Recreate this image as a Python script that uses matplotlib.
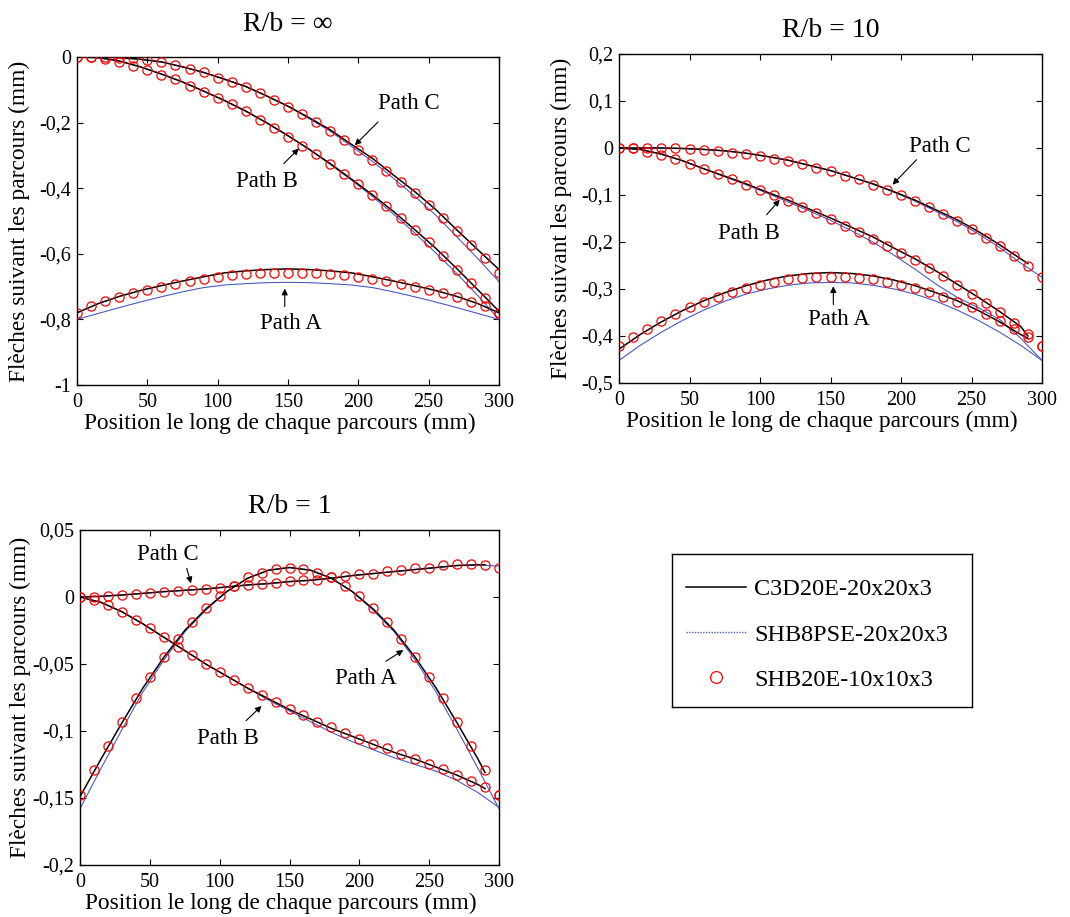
import matplotlib
matplotlib.use("Agg")
import matplotlib.pyplot as plt
from matplotlib.lines import Line2D
from matplotlib.ticker import FixedLocator, FixedFormatter

plt.rcParams['font.family'] = ['Liberation Serif', 'DejaVu Serif']

# ---------------- data ----------------
X_CIRC = [0, 10, 20, 30, 40, 50, 60, 70, 80, 90, 100, 110, 120, 130, 140, 150,
          160, 170, 180, 190, 200, 210, 220, 230, 240, 250, 260, 270, 280, 290, 300]
X_LINE = [0, 15, 30, 45, 60, 75, 90, 105, 120, 135, 150, 165, 180, 195, 210, 225,
          240, 255, 270, 285, 300]
X_LINE_290 = [0, 15, 30, 45, 60, 75, 90, 105, 120, 135, 150, 165, 180, 195, 210, 225,
              240, 255, 270, 285, 290]

X_TICKS = [0, 50, 100, 150, 200, 250, 300]
X_TICK_LABELS = ["0", "50", "100", "150", "200", "250", "300"]

# R/b = infinity
INF_TITLE = "R/b = \u221e"
INF_YTICKS = [0, -0.2, -0.4, -0.6, -0.8, -1.0]
INF_YTICK_LABELS = ["0", "-0,2", "-0,4", "-0,6", "-0,8", "-1"]
INF_C3D_A = [-0.780, -0.752, -0.730, -0.712, -0.697, -0.683, -0.670, -0.658, -0.652, -0.648, -0.646,
             -0.648, -0.652, -0.658, -0.670, -0.683, -0.697, -0.712, -0.730, -0.752, -0.780]
INF_SHB8_A = [-0.800, -0.782, -0.764, -0.747, -0.731, -0.716, -0.703, -0.695, -0.691, -0.688, -0.687,
              -0.688, -0.691, -0.695, -0.703, -0.716, -0.731, -0.747, -0.764, -0.782, -0.800]
INF_C3D_B = [0, -0.002, -0.012, -0.030, -0.052, -0.076, -0.104, -0.133, -0.165, -0.201, -0.240,
             -0.281, -0.325, -0.372, -0.420, -0.471, -0.526, -0.583, -0.645, -0.710, -0.775]
INF_SHB8_B = [0, -0.002, -0.012, -0.030, -0.052, -0.076, -0.104, -0.133, -0.165, -0.201, -0.240,
              -0.282, -0.327, -0.375, -0.425, -0.479, -0.536, -0.597, -0.660, -0.728, -0.800]
INF_C3D_C = [0, 0, -0.002, -0.007, -0.015, -0.030, -0.047, -0.068, -0.090, -0.119, -0.150,
             -0.185, -0.222, -0.266, -0.309, -0.360, -0.410, -0.465, -0.527, -0.588, -0.648]
INF_SHB8_C = [0, 0, -0.002, -0.007, -0.015, -0.030, -0.047, -0.068, -0.090, -0.119, -0.150,
              -0.188, -0.226, -0.272, -0.318, -0.370, -0.424, -0.482, -0.548, -0.615, -0.685]
INF_SHB20_A = [-0.779, -0.759, -0.744, -0.733, -0.721, -0.711, -0.701, -0.692, -0.683, -0.677, -0.670,
               -0.665, -0.662, -0.660, -0.659, -0.659, -0.659, -0.659, -0.662, -0.665, -0.670,
               -0.676, -0.683, -0.692, -0.701, -0.711, -0.721, -0.733, -0.746, -0.759, -0.779]
INF_SHB20_B = [0, 0, -0.006, -0.016, -0.026, -0.041, -0.055, -0.067, -0.087, -0.106, -0.124,
               -0.144, -0.166, -0.191, -0.215, -0.244, -0.270, -0.296, -0.327, -0.357, -0.388,
               -0.421, -0.455, -0.490, -0.528, -0.565, -0.607, -0.648, -0.690, -0.734, -0.779]
INF_SHB20_C = [0, 0, 0, -0.002, -0.004, -0.010, -0.016, -0.025, -0.036, -0.047, -0.063,
               -0.077, -0.091, -0.110, -0.130, -0.152, -0.175, -0.199, -0.225, -0.254, -0.284,
               -0.313, -0.347, -0.381, -0.416, -0.452, -0.492, -0.530, -0.572, -0.614, -0.658]

# R/b = 10
R10_TITLE = "R/b = 10"
R10_YTICKS = [0.2, 0.1, 0, -0.1, -0.2, -0.3, -0.4, -0.5]
R10_YTICK_LABELS = ["0,2", "0,1", "0", "-0,1", "-0,2", "-0,3", "-0,4", "-0,5"]
R10_C3D_A = [-0.428, -0.397, -0.370, -0.346, -0.325, -0.308, -0.293, -0.281, -0.272, -0.267, -0.265,
             -0.267, -0.272, -0.281, -0.293, -0.308, -0.325, -0.346, -0.370, -0.397, -0.405]
R10_SHB8_A = [-0.452, -0.420, -0.392, -0.367, -0.345, -0.326, -0.311, -0.300, -0.292, -0.287, -0.286,
              -0.287, -0.292, -0.300, -0.311, -0.326, -0.345, -0.367, -0.392, -0.420, -0.452]
R10_C3D_B = [0, -0.003, -0.013, -0.027, -0.044, -0.060, -0.076, -0.094, -0.111, -0.130, -0.149,
             -0.169, -0.189, -0.213, -0.236, -0.262, -0.290, -0.318, -0.348, -0.380, -0.400]
R10_SHB8_B = [0, -0.003, -0.013, -0.027, -0.044, -0.061, -0.078, -0.096, -0.115, -0.134, -0.154,
              -0.176, -0.200, -0.228, -0.258, -0.290, -0.318, -0.340, -0.365, -0.405, -0.452]
R10_C3D_C = [0, 0, 0, -0.001, -0.003, -0.006, -0.011, -0.018, -0.026, -0.037, -0.048,
             -0.062, -0.076, -0.093, -0.111, -0.132, -0.153, -0.178, -0.206, -0.236, -0.246]
R10_SHB8_C = [0, 0, 0, -0.001, -0.003, -0.006, -0.011, -0.018, -0.026, -0.037, -0.048,
              -0.062, -0.077, -0.094, -0.113, -0.135, -0.157, -0.183, -0.212, -0.245, -0.275]
R10_SHB20_A = [-0.422, -0.402, -0.385, -0.369, -0.353, -0.339, -0.328, -0.316, -0.307, -0.298, -0.292,
               -0.285, -0.279, -0.277, -0.275, -0.275, -0.275, -0.277, -0.279, -0.285, -0.292,
               -0.298, -0.307, -0.317, -0.328, -0.339, -0.353, -0.369, -0.385, -0.402, -0.422]
R10_SHB20_B = [0, -0.001, -0.009, -0.014, -0.023, -0.033, -0.044, -0.055, -0.065, -0.078, -0.089,
               -0.101, -0.113, -0.126, -0.138, -0.151, -0.165, -0.179, -0.193, -0.208, -0.223,
               -0.239, -0.255, -0.272, -0.291, -0.310, -0.330, -0.349, -0.372, -0.396, -0.422]
R10_SHB20_C = [0, 0, 0, 0, -0.001, -0.002, -0.004, -0.006, -0.011, -0.013, -0.016,
               -0.023, -0.027, -0.033, -0.043, -0.050, -0.059, -0.067, -0.078, -0.089, -0.101,
               -0.113, -0.126, -0.140, -0.155, -0.172, -0.191, -0.209, -0.229, -0.252, -0.274]

# R/b = 1
R1_TITLE = "R/b = 1"
R1_YTICKS = [0.05, 0, -0.05, -0.1, -0.15, -0.2]
R1_YTICK_LABELS = ["0,05", "0", "-0,05", "-0,1", "-0,15", "-0,2"]
R1_C3D_A = [-0.149, -0.121, -0.094, -0.068, -0.045, -0.025, -0.009, 0.004, 0.014, 0.020, 0.022,
            0.020, 0.014, 0.004, -0.009, -0.025, -0.045, -0.068, -0.094, -0.121, -0.131]
R1_SHB8_A = [-0.158, -0.128, -0.099, -0.071, -0.047, -0.026, -0.010, 0.004, 0.014, 0.020, 0.022,
             0.020, 0.014, 0.004, -0.010, -0.026, -0.047, -0.071, -0.099, -0.128, -0.158]
R1_C3D_B = [0, -0.004, -0.011, -0.020, -0.030, -0.040, -0.050, -0.059, -0.068, -0.076, -0.084,
            -0.091, -0.098, -0.104, -0.110, -0.116, -0.121, -0.127, -0.133, -0.140, -0.143]
R1_SHB8_B = [0, -0.004, -0.011, -0.020, -0.030, -0.040, -0.050, -0.059, -0.068, -0.077, -0.085,
             -0.093, -0.101, -0.108, -0.114, -0.120, -0.125, -0.130, -0.137, -0.146, -0.157]
R1_C3D_C = [0, 0.0005, 0.0015, 0.0027, 0.004, 0.005, 0.006, 0.0075, 0.009, 0.010, 0.0115,
            0.0125, 0.014, 0.016, 0.0175, 0.019, 0.0205, 0.022, 0.0235, 0.024, 0.024]
R1_SHB8_C = [0, 0.0005, 0.0015, 0.0027, 0.004, 0.005, 0.006, 0.0075, 0.009, 0.010, 0.0115,
             0.0125, 0.014, 0.016, 0.0175, 0.019, 0.0205, 0.022, 0.0235, 0.024, 0.023]
R1_SHB20_A = [-0.148, -0.129, -0.111, -0.093, -0.0756, -0.060, -0.0445, -0.031, -0.019, -0.0085, 0.0005,
              0.0082, 0.0147, 0.018, 0.021, 0.022, 0.021, 0.018, 0.015, 0.0082, 0.0005,
              -0.0085, -0.019, -0.031, -0.0445, -0.060, -0.0756, -0.093, -0.111, -0.129, -0.148]
R1_SHB20_B = [0, -0.002, -0.006, -0.011, -0.017, -0.023, -0.030, -0.037, -0.0435, -0.050, -0.056,
              -0.062, -0.068, -0.0734, -0.0786, -0.0836, -0.0883, -0.093, -0.0973, -0.1017, -0.106,
              -0.110, -0.113, -0.117, -0.1206, -0.1246, -0.128, -0.133, -0.137, -0.1415, -0.148]
R1_SHB20_C = [0, 0, 0.001, 0.0015, 0.002, 0.003, 0.004, 0.0045, 0.0055, 0.006, 0.007,
              0.008, 0.009, 0.0097, 0.0105, 0.012, 0.0127, 0.013, 0.015, 0.0157, 0.017,
              0.0174, 0.0194, 0.020, 0.0214, 0.0216, 0.0236, 0.0244, 0.0244, 0.0236, 0.0219]

LEGEND_LABELS = ["C3D20E-20x20x3", "SHB8PSE-20x20x3", "SHB20E-10x10x3"]
XLABEL = "Position le long de chaque parcours (mm)"
YLABEL = "Fl\u00e8ches suivant les parcours (mm)"

# ---------------- style ----------------
BLACK = "#000000"
BLUE = "#4a5bc2"
RED = "#ff0000"
W, H = 1070, 917


def rect(l, t, r, b):
    return [l / W, 1 - b / H, (r - l) / W, (b - t) / H]


fig = plt.figure(figsize=(W / 100, H / 100), dpi=100)


def make_panel(pos, title, tpad, yticks, ylabels, ylim, c3d_x, c3d, shb8, shb20, ann,
               ylab_x, xlab_y):
    ax = fig.add_axes(pos)
    for ys in shb8:
        ax.plot(X_LINE, ys, color=BLUE, lw=0.8, zorder=2)
    for ys in c3d:
        ax.plot(c3d_x, ys, color=BLACK, lw=1.1, zorder=3)
    for ys in shb20:
        ax.plot(X_CIRC, ys, linestyle='none', marker='o', markersize=6.6,
                markerfacecolor='none', markeredgecolor=RED, markeredgewidth=0.9, zorder=4)
    ax.set_xlim(0, 300)
    ax.set_ylim(*ylim)
    ax.xaxis.set_major_locator(FixedLocator(X_TICKS))
    ax.xaxis.set_major_formatter(FixedFormatter(X_TICK_LABELS))
    ax.yaxis.set_major_locator(FixedLocator(yticks))
    ax.yaxis.set_major_formatter(FixedFormatter(ylabels))
    ax.tick_params(direction='in', top=True, right=True, length=4, width=0.8,
                   labelsize=14.5, pad=4)
    ax.tick_params(axis='x', pad=6)
    for s in ax.spines.values():
        s.set_linewidth(1.0)
    ax.set_title(title, fontsize=20, pad=tpad)
    ax.set_xlabel(XLABEL, fontsize=16.8)
    ax.set_ylabel(YLABEL, fontsize=16.8)
    ax.xaxis.set_label_coords(0.48, xlab_y)
    ax.yaxis.set_label_coords(ylab_x, 0.5)
    for text, tx, ty, tail, tip in ann:
        ax.text(tx, ty, text, fontsize=16.5, ha='left', va='center', zorder=5)
        ax.annotate('', xy=tip, xytext=tail,
                    arrowprops=dict(arrowstyle='-|>', color='k', lw=0.8,
                                    shrinkA=0, shrinkB=0, mutation_scale=9), zorder=5)
    return ax


make_panel(rect(77, 57, 499, 385), INF_TITLE, 19, INF_YTICKS, INF_YTICK_LABELS, (-1.0, 0.0),
           X_LINE, [INF_C3D_A, INF_C3D_B, INF_C3D_C], [INF_SHB8_A, INF_SHB8_B, INF_SHB8_C],
           [INF_SHB20_A, INF_SHB20_B, INF_SHB20_C],
           [("Path C", 214, -0.142, (214, -0.198), (197.5, -0.269)),
            ("Path B", 113, -0.381, (147, -0.325), (157.7, -0.279)),
            ("Path A", 130, -0.812, (147.7, -0.761), (147.7, -0.706))], -0.111, -0.084)

make_panel(rect(619, 54, 1042, 383), R10_TITLE, 12, R10_YTICKS, R10_YTICK_LABELS, (-0.5, 0.2),
           X_LINE_290, [R10_C3D_A, R10_C3D_B, R10_C3D_C], [R10_SHB8_A, R10_SHB8_B, R10_SHB8_C],
           [R10_SHB20_A, R10_SHB20_B, R10_SHB20_C],
           [("Path C", 206, 0.0035, (211, -0.025), (194, -0.078)),
            ("Path B", 70, -0.181, (104.7, -0.142), (114, -0.110)),
            ("Path A", 134, -0.365, (152, -0.333), (152, -0.294))], -0.111, -0.086)

make_panel(rect(80, 530, 499, 865), R1_TITLE, 12, R1_YTICKS, R1_YTICK_LABELS, (-0.2, 0.05),
           X_LINE_290, [R1_C3D_A, R1_C3D_B, R1_C3D_C], [R1_SHB8_A, R1_SHB8_B, R1_SHB8_C],
           [R1_SHB20_A, R1_SHB20_B, R1_SHB20_C],
           [("Path C", 40.6, 0.032, (76.4, 0.0214), (79.5, 0.0102)),
            ("Path A", 182.6, -0.0607, (219, -0.048), (231.5, -0.0396)),
            ("Path B", 84, -0.1055, (118.9, -0.0923), (130, -0.0813))], -0.117, -0.082)

# legend box
lax = fig.add_axes(rect(672, 554, 972, 707))
lax.set_xticks([])
lax.set_yticks([])
for s in lax.spines.values():
    s.set_linewidth(1.0)
handles = [Line2D([], [], color=BLACK, lw=1.1),
           Line2D([], [], color=BLUE, lw=1.0, linestyle=(0, (1, 1))),
           Line2D([], [], linestyle='none', marker='o', markersize=8.5,
                  markerfacecolor='none', markeredgecolor=RED, markeredgewidth=0.9)]
lax.legend(handles, LEGEND_LABELS, loc='upper left', bbox_to_anchor=(0.047, 0.84),
           frameon=False, fontsize=17.5, handlelength=2.47, handletextpad=0.33,
           labelspacing=0.95, borderaxespad=0, borderpad=0)

fig.savefig("out.png", dpi=100)
